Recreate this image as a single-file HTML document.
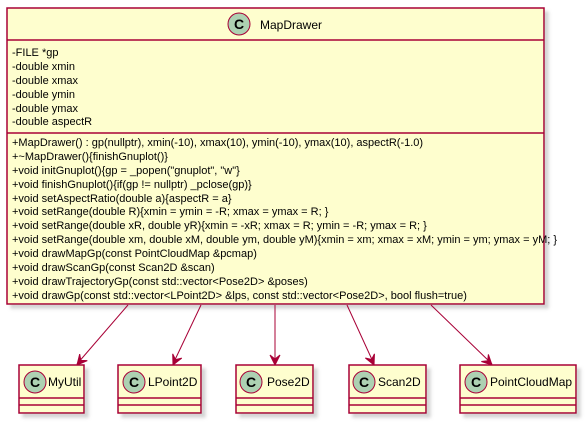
<!DOCTYPE html>
<html><head><meta charset="utf-8"><style>
html,body{margin:0;padding:0;background:#fff;}
svg{display:block;}
text{font-family:"Liberation Sans",sans-serif;fill:#000;}
</style></head><body>
<svg width="586" height="423" viewBox="0 0 586 423" xmlns="http://www.w3.org/2000/svg">
<defs>
<filter id="sh" x="-10%" y="-10%" width="130%" height="130%">
<feOffset dx="4" dy="4" in="SourceAlpha" result="o"/>
<feGaussianBlur in="o" stdDeviation="1.5" result="b"/>
<feColorMatrix in="b" type="matrix" values="0 0 0 0 0.4  0 0 0 0 0.4  0 0 0 0 0.4  0 0 0 0.5 0" result="c"/>
<feMerge><feMergeNode in="c"/><feMergeNode in="SourceGraphic"/></feMerge>
</filter>
<polygon id="ah" points="0,0 -5,-10 0,-6 5,-10" fill="#A80036" stroke="#A80036" stroke-width="1"/>
</defs>
<rect x="7" y="8" width="537" height="296" fill="#FEFECE" stroke="#A80036" stroke-width="1.5" filter="url(#sh)"/>
<line x1="7" y1="40" x2="544" y2="40" stroke="#A80036" stroke-width="1.5"/>
<line x1="7" y1="133" x2="544" y2="133" stroke="#A80036" stroke-width="1.5"/>
<circle cx="239" cy="24" r="11" fill="#ADD1B2" stroke="#A80036" stroke-width="1"/>
<text x="239" y="29" font-size="14" font-weight="bold" text-anchor="middle">C</text>
<text x="260" y="29" font-size="12">MapDrawer</text>
<g font-size="11">
<text x="12" y="56">-FILE *gp</text>
<text x="12" y="70">-double xmin</text>
<text x="12" y="84">-double xmax</text>
<text x="12" y="98">-double ymin</text>
<text x="12" y="112">-double ymax</text>
<text x="12" y="125">-double aspectR</text>
<text x="12" y="146">+MapDrawer() : gp(nullptr), xmin(-10), xmax(10), ymin(-10), ymax(10), aspectR(-1.0)</text>
<text x="12" y="160">+~MapDrawer(){finishGnuplot()}</text>
<text x="12" y="174">+void initGnuplot(){gp = _popen("gnuplot", "w"}</text>
<text x="12" y="188">+void finishGnuplot(){if(gp != nullptr) _pclose(gp)}</text>
<text x="12" y="202">+void setAspectRatio(double a){aspectR = a}</text>
<text x="12" y="215">+void setRange(double R){xmin = ymin = -R; xmax = ymax = R; }</text>
<text x="12" y="229">+void setRange(double xR, double yR){xmin = -xR; xmax = R; ymin = -R; ymax = R; }</text>
<text x="12" y="243">+void setRange(double xm, double xM, double ym, double yM){xmin = xm; xmax = xM; ymin = ym; ymax = yM; }</text>
<text x="12" y="257">+void drawMapGp(const PointCloudMap &amp;pcmap)</text>
<text x="12" y="271">+void drawScanGp(const Scan2D &amp;scan)</text>
<text x="12" y="285">+void drawTrajectoryGp(const std::vector&lt;Pose2D&gt; &amp;poses)</text>
<text x="12" y="299">+void drawGp(const std::vector&lt;LPoint2D&gt; &amp;lps, const std::vector&lt;Pose2D&gt;, bool flush=true)</text>
</g>
<g stroke="#A80036" stroke-width="1">
<line x1="128" y1="305" x2="77" y2="364"/>
<line x1="201" y1="305" x2="173" y2="364"/>
<line x1="275" y1="305" x2="275" y2="364"/>
<line x1="347" y1="305" x2="374" y2="364"/>
<line x1="431" y1="305" x2="492" y2="364"/>
</g>
<use href="#ah" transform="translate(77,365) rotate(40.4)"/>
<use href="#ah" transform="translate(173,365) rotate(25)"/>
<use href="#ah" transform="translate(275,365)"/>
<use href="#ah" transform="translate(374,365) rotate(-24.2)"/>
<use href="#ah" transform="translate(492,365) rotate(-45.5)"/>
<g>
<rect x="19" y="365" width="65" height="48" fill="#FEFECE" stroke="#A80036" stroke-width="1.5" filter="url(#sh)"/>
<line x1="19" y1="398" x2="84" y2="398" stroke="#A80036" stroke-width="1.5"/>
<line x1="19" y1="405" x2="84" y2="405" stroke="#A80036" stroke-width="1.5"/>
<circle cx="35" cy="382" r="11" fill="#ADD1B2" stroke="#A80036"/>
<text x="35" y="387" font-size="14" font-weight="bold" text-anchor="middle">C</text>
<text x="48" y="386" font-size="12">MyUtil</text>

<rect x="118" y="365" width="83" height="48" fill="#FEFECE" stroke="#A80036" stroke-width="1.5" filter="url(#sh)"/>
<line x1="118" y1="398" x2="201" y2="398" stroke="#A80036" stroke-width="1.5"/>
<line x1="118" y1="405" x2="201" y2="405" stroke="#A80036" stroke-width="1.5"/>
<circle cx="134" cy="382" r="11" fill="#ADD1B2" stroke="#A80036"/>
<text x="134" y="387" font-size="14" font-weight="bold" text-anchor="middle">C</text>
<text x="148" y="386" font-size="12">LPoint2D</text>

<rect x="236" y="365" width="77" height="48" fill="#FEFECE" stroke="#A80036" stroke-width="1.5" filter="url(#sh)"/>
<line x1="236" y1="398" x2="313" y2="398" stroke="#A80036" stroke-width="1.5"/>
<line x1="236" y1="405" x2="313" y2="405" stroke="#A80036" stroke-width="1.5"/>
<circle cx="251" cy="382" r="11" fill="#ADD1B2" stroke="#A80036"/>
<text x="251" y="387" font-size="14" font-weight="bold" text-anchor="middle">C</text>
<text x="267" y="386" font-size="12">Pose2D</text>

<rect x="349" y="365" width="77" height="48" fill="#FEFECE" stroke="#A80036" stroke-width="1.5" filter="url(#sh)"/>
<line x1="349" y1="398" x2="426" y2="398" stroke="#A80036" stroke-width="1.5"/>
<line x1="349" y1="405" x2="426" y2="405" stroke="#A80036" stroke-width="1.5"/>
<circle cx="364" cy="382" r="11" fill="#ADD1B2" stroke="#A80036"/>
<text x="364" y="387" font-size="14" font-weight="bold" text-anchor="middle">C</text>
<text x="378" y="386" font-size="12">Scan2D</text>

<rect x="460" y="365" width="116" height="48" fill="#FEFECE" stroke="#A80036" stroke-width="1.5" filter="url(#sh)"/>
<line x1="460" y1="398" x2="576" y2="398" stroke="#A80036" stroke-width="1.5"/>
<line x1="460" y1="405" x2="576" y2="405" stroke="#A80036" stroke-width="1.5"/>
<circle cx="476" cy="382" r="11" fill="#ADD1B2" stroke="#A80036"/>
<text x="476" y="387" font-size="14" font-weight="bold" text-anchor="middle">C</text>
<text x="490" y="386" font-size="12">PointCloudMap</text>
</g>
</svg>
</body></html>
